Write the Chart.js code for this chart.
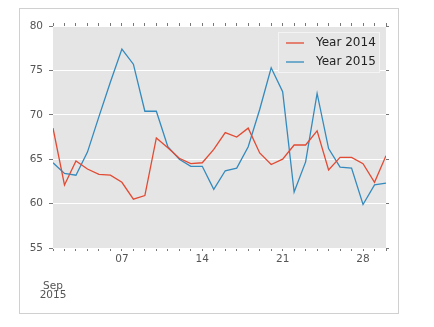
<!DOCTYPE html>
<html>
<head>
<meta charset="utf-8">
<title>Year 2014 vs Year 2015</title>
<script src="https://cdn.jsdelivr.net/npm/chart.js@4.4.1/dist/chart.umd.min.js"></script>
<style>
    html, body { margin: 0; padding: 0; background: #ffffff; }
    canvas { display: block; }
</style>
</head>
<body>
<canvas id="sep-chart" width="434" height="327"></canvas>
<script>
// Days of September 2015
const days = [1, 2, 3, 4, 5, 6, 7, 8, 9, 10, 11, 12, 13, 14, 15,
              16, 17, 18, 19, 20, 21, 22, 23, 24, 25, 26, 27, 28, 29, 30];

// Series values
const year2014 = [68.5, 62.1, 64.8, 63.9, 63.3, 63.2, 62.4, 60.5, 60.9, 67.4,
                  66.3, 65.1, 64.5, 64.6, 66.1, 68.0, 67.5, 68.5, 65.7, 64.4,
                  65.0, 66.6, 66.6, 68.2, 63.8, 65.2, 65.2, 64.5, 62.4, 65.4];
const year2015 = [64.6, 63.4, 63.2, 65.8, 69.8, 73.7, 77.4, 75.7, 70.4, 70.4,
                  66.4, 65.0, 64.2, 64.2, 61.6, 63.7, 64.0, 66.4, 70.6, 75.3,
                  72.6, 61.3, 64.7, 72.4, 66.2, 64.1, 64.0, 59.9, 62.1, 62.3];

const seriesNames = ['Year 2014', 'Year 2015'];
const seriesColors = ['#E24A33', '#348ABD'];

// Tick labels
const yTicks = [55, 60, 65, 70, 75, 80];
const xTickLabels = { 7: '07', 14: '14', 21: '21', 28: '28' };
const monthLabel = ['Sep', '2015'];

const tickFont = { family: 'DejaVu Sans', size: 10.5 };
const tickColor = '#555555';

function toPoints(values) {
    return days.map((d, i) => ({ x: d, y: values[i] }));
}

// Frame round the figure and the grey plot background
const backgroundPlugin = {
    id: 'background',
    beforeDraw(chart) {
        const ctx = chart.ctx;
        const area = chart.chartArea;
        ctx.save();
        ctx.fillStyle = '#ffffff';
        ctx.fillRect(0, 0, chart.width, chart.height);
        ctx.strokeStyle = '#d0d0d0';
        ctx.lineWidth = 1;
        ctx.strokeRect(19.5, 8.5, 379, 305);
        ctx.fillStyle = '#E5E5E5';
        ctx.fillRect(area.left, area.top, area.right - area.left, area.bottom - area.top);
        ctx.restore();
    }
};

// Legend box in the upper right corner of the plot
const legendPlugin = {
    id: 'boxLegend',
    afterDraw(chart) {
        const ctx = chart.ctx;
        const area = chart.chartArea;
        const w = 102, h = 41;
        const x = area.right - 6 - w;
        const y = area.top + 6;
        ctx.save();
        ctx.fillStyle = 'rgba(229,229,229,0.9)';
        ctx.fillRect(x, y, w, h);
        ctx.strokeStyle = '#f4f4f4';
        ctx.lineWidth = 1;
        ctx.strokeRect(x + 0.5, y + 0.5, w - 1, h - 1);
        ctx.font = '12px "DejaVu Sans"';
        ctx.textBaseline = 'middle';
        chart.data.datasets.forEach((ds, i) => {
            const rowY = y + 11 + i * 19;
            ctx.strokeStyle = ds.borderColor;
            ctx.lineWidth = 1.3;
            ctx.beginPath();
            ctx.moveTo(x + 8, rowY);
            ctx.lineTo(x + 26, rowY);
            ctx.stroke();
            ctx.fillStyle = '#222222';
            ctx.fillText(ds.label, x + 38, rowY);
        });
        ctx.restore();
    }
};

function initializeChart() {
    const ctx = document.getElementById('sep-chart').getContext('2d');
    return new Chart(ctx, {
        type: 'line',
        data: {
            datasets: [
                {
                    label: seriesNames[0],
                    data: toPoints(year2014),
                    borderColor: seriesColors[0],
                    backgroundColor: seriesColors[0],
                    borderWidth: 1.3,
                    pointRadius: 0,
                    tension: 0
                },
                {
                    label: seriesNames[1],
                    data: toPoints(year2015),
                    borderColor: seriesColors[1],
                    backgroundColor: seriesColors[1],
                    borderWidth: 1.3,
                    pointRadius: 0,
                    tension: 0
                }
            ]
        },
        options: {
            responsive: false,
            animation: false,
            layout: {
                padding: { left: 20, right: 44, top: 22, bottom: 19 }
            },
            plugins: {
                legend: { display: false },
                tooltip: { enabled: false }
            },
            scales: {
                x: {
                    type: 'linear',
                    position: 'bottom',
                    min: days[0],
                    max: days[days.length - 1],
                    border: { display: false },
                    grid: {
                        drawOnChartArea: false,
                        drawTicks: true,
                        tickLength: 3,
                        tickColor: '#777777'
                    },
                    ticks: {
                        stepSize: 1,
                        autoSkip: false,
                        maxRotation: 0,
                        padding: 2,
                        color: tickColor,
                        font: function(context) {
                            if (context.tick && context.tick.value === days[0]) {
                                return { family: 'DejaVu Sans', size: 10.5, lineHeight: '9.5px' };
                            }
                            return tickFont;
                        },
                        callback: function(value) {
                            if (value === days[0]) return ['', '', ''].concat(monthLabel);
                            return xTickLabels[value] || '';
                        }
                    },
                    afterFit(scale) { scale.height = 60; }
                },
                x2: {
                    type: 'linear',
                    position: 'top',
                    min: days[0],
                    max: days[days.length - 1],
                    border: { display: false },
                    grid: {
                        drawOnChartArea: false,
                        drawTicks: true,
                        tickLength: 3,
                        tickColor: '#777777'
                    },
                    ticks: { stepSize: 1, autoSkip: false, display: false },
                    afterFit(scale) { scale.height = 4; }
                },
                y: {
                    position: 'left',
                    min: yTicks[0],
                    max: yTicks[yTicks.length - 1],
                    border: { display: false },
                    grid: {
                        color: '#ffffff',
                        lineWidth: 1,
                        drawTicks: true,
                        tickLength: 4,
                        tickColor: '#777777'
                    },
                    ticks: {
                        stepSize: 5,
                        padding: 6,
                        color: tickColor,
                        font: tickFont
                    },
                    afterFit(scale) { scale.width = 33; }
                },
                y2: {
                    position: 'right',
                    min: yTicks[0],
                    max: yTicks[yTicks.length - 1],
                    border: { display: false },
                    grid: {
                        drawOnChartArea: false,
                        drawTicks: true,
                        tickLength: 3,
                        tickColor: '#777777'
                    },
                    ticks: { stepSize: 5, display: false },
                    afterFit(scale) { scale.width = 4; }
                }
            }
        },
        plugins: [backgroundPlugin, legendPlugin]
    });
}

initializeChart();
</script>
</body>
</html>
